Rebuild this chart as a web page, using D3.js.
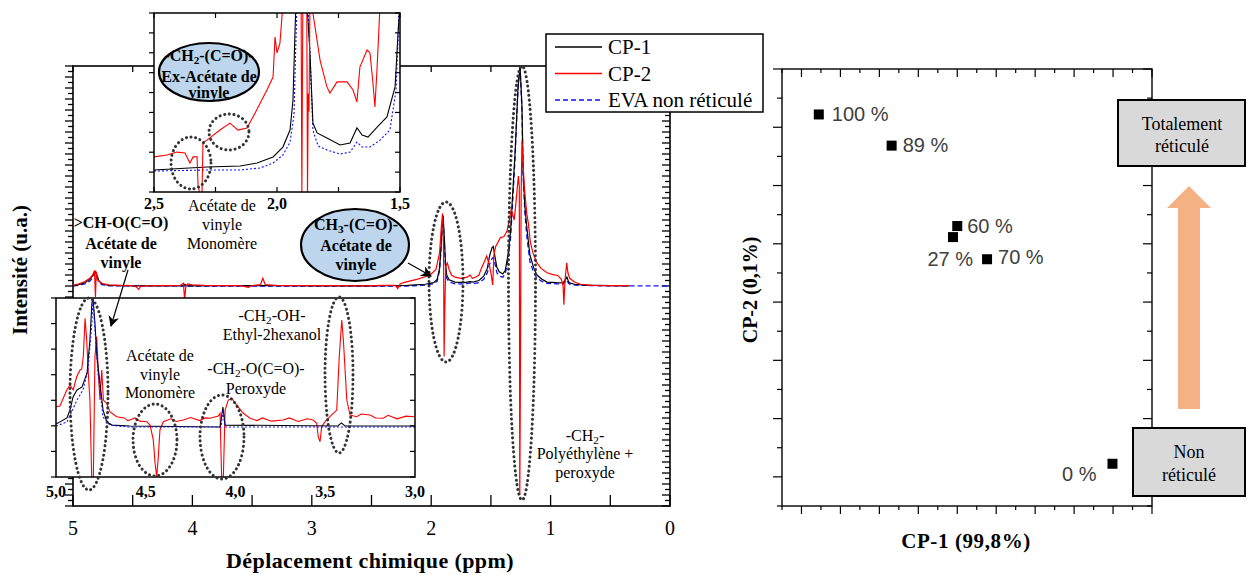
<!DOCTYPE html>
<html><head><meta charset="utf-8">
<script src="https://cdn.jsdelivr.net/npm/d3@7"></script>
<style>
body{margin:0;background:#fff}
svg{display:block}
text{font-family:"Liberation Serif","Times New Roman",serif;fill:#000}
</style>
</head><body>
<svg id="c" width="1247" height="575"></svg>
<script>
// ---------------- DATA ----------------
const seriesNames = ["CP-1", "CP-2", "EVA non réticulé"];
const mainXTickLabels = ["5", "4", "3", "2", "1", "0"];
const mainXTickValues = [5, 4, 3, 2, 1, 0];
const topInsetTickValues = [2.5, 2.0, 1.5];
const topInsetTickLabels = ["2,5", "2,0", "1,5"];
const botInsetTickValues = [5.0, 4.5, 4.0, 3.5, 3.0];
const botInsetTickLabels = ["5,0", "4,5", "4,0", "3,5", "3,0"];

// Main spectrum [ppm, intensity]
const mainCP1 = [[5.0,0.002],[4.95,0.006],[4.9,0.015],[4.86,0.03],[4.83,0.05],[4.815,0.066],[4.8,0.05],[4.785,0.025],[4.76,0.01],[4.7,0.003],[4.5,0.001],[4.08,0.001],[4.065,0.008],[4.05,0.001],[3.4,0.002],[3.0,0.001],[2.5,0.001],[2.2,0.003],[2.05,0.008],[1.98,0.015],[1.95,0.03],[1.93,0.08],[1.915,0.2],[1.905,0.3],[1.9,0.32],[1.89,0.22],[1.88,0.1],[1.87,0.05],[1.85,0.028],[1.8,0.018],[1.72,0.015],[1.675,0.02],[1.65,0.018],[1.6,0.025],[1.56,0.045],[1.53,0.08],[1.51,0.14],[1.49,0.175],[1.48,0.18],[1.465,0.13],[1.45,0.085],[1.43,0.065],[1.4,0.055],[1.38,0.07],[1.357,0.14],[1.335,0.25],[1.323,0.37],[1.298,0.6],[1.273,0.9],[1.256,1.0],[1.24,0.82],[1.23,0.52],[1.215,0.36],[1.198,0.26],[1.173,0.14],[1.14,0.08],[1.114,0.05],[1.07,0.03],[1.03,0.018],[0.95,0.015],[0.896,0.014],[0.875,0.03],[0.863,0.04],[0.85,0.02],[0.84,0.014],[0.8,0.008],[0.7,0.004],[0.5,0.002],[0.34,0.001]];
const mainCP2 = [[5.0,0.003],[4.95,0.01],[4.9,0.02],[4.86,0.035],[4.835,0.05],[4.82,0.07],[4.812,-0.05],[4.805,0.065],[4.795,0.03],[4.78,0.02],[4.75,0.01],[4.7,0.005],[4.6,0.003],[4.5,0.002],[4.47,-0.004],[4.45,-0.015],[4.43,0.0],[4.3,0.002],[4.1,0.003],[4.075,0.012],[4.065,-0.065],[4.055,0.0],[4.04,0.01],[4.0,0.005],[3.9,0.003],[3.6,0.002],[3.53,-0.006],[3.5,0.002],[3.43,0.006],[3.41,0.035],[3.39,0.006],[3.3,0.003],[3.0,0.002],[2.8,0.002],[2.55,0.001],[2.4,0.003],[2.3,0.003],[2.28,-0.012],[2.26,0.01],[2.2,0.02],[2.12,0.03],[2.05,0.042],[2.0,0.055],[1.96,0.075],[1.93,0.15],[1.915,0.27],[1.905,0.33],[1.897,0.2],[1.892,-0.32],[1.886,-0.1],[1.878,0.09],[1.865,0.105],[1.85,0.075],[1.83,0.05],[1.8,0.04],[1.75,0.035],[1.7,0.04],[1.675,0.05],[1.655,0.035],[1.63,0.04],[1.6,0.05],[1.58,0.08],[1.555,0.11],[1.535,0.136],[1.515,0.1],[1.5,0.06],[1.485,0.005],[1.475,0.14],[1.46,0.18],[1.44,0.2],[1.42,0.22],[1.39,0.225],[1.365,0.25],[1.345,0.3],[1.33,0.35],[1.32,0.33],[1.305,0.3],[1.29,0.38],[1.27,0.5],[1.262,0.45],[1.258,-0.95],[1.252,-0.3],[1.247,0.4],[1.24,0.66],[1.23,0.55],[1.22,0.45],[1.2,0.33],[1.185,0.28],[1.17,0.2],[1.15,0.155],[1.12,0.11],[1.08,0.08],[1.03,0.06],[0.98,0.052],[0.94,0.048],[0.91,0.03],[0.895,0.0],[0.889,-0.085],[0.88,0.02],[0.865,0.105],[0.855,0.06],[0.84,0.035],[0.8,0.018],[0.75,0.008],[0.65,0.003],[0.5,0.002],[0.34,0.002]];
const mainEVA = [[5.0,0.0],[4.95,0.004],[4.9,0.01],[4.86,0.022],[4.83,0.04],[4.815,0.06],[4.8,0.045],[4.785,0.02],[4.76,0.006],[4.7,0.001],[4.0,0.0],[3.0,0.0],[2.2,0.0],[2.05,0.004],[1.98,0.01],[1.95,0.022],[1.93,0.07],[1.915,0.19],[1.905,0.29],[1.9,0.3],[1.89,0.2],[1.88,0.08],[1.87,0.035],[1.85,0.018],[1.8,0.01],[1.72,0.008],[1.675,0.014],[1.65,0.01],[1.6,0.015],[1.56,0.03],[1.53,0.06],[1.51,0.1],[1.49,0.125],[1.48,0.13],[1.465,0.1],[1.45,0.06],[1.43,0.045],[1.4,0.04],[1.38,0.055],[1.357,0.12],[1.335,0.22],[1.323,0.33],[1.298,0.58],[1.273,0.9],[1.256,1.0],[1.24,0.8],[1.23,0.5],[1.215,0.33],[1.198,0.22],[1.173,0.11],[1.14,0.06],[1.114,0.035],[1.07,0.02],[1.03,0.012],[0.95,0.01],[0.896,0.009],[0.875,0.02],[0.863,0.028],[0.85,0.012],[0.84,0.008],[0.8,0.004],[0.6,0.001],[0.0,0.0]];

// Top inset (2.5 - 1.5 ppm), relative intensity
const topCP1 = [[2.5,0.123],[2.285,0.14],[2.15,0.145],[2.081,0.162],[2.016,0.196],[1.976,0.251],[1.947,0.346],[1.935,0.514],[1.927,0.888],[1.923,1.05],[1.878,1.05],[1.866,0.777],[1.854,0.385],[1.837,0.33],[1.797,0.302],[1.744,0.263],[1.703,0.274],[1.675,0.358],[1.654,0.318],[1.63,0.307],[1.593,0.363],[1.553,0.419],[1.52,0.587],[1.508,0.888],[1.5,1.05]];
const topCP2 = [[2.5,0.196],[2.447,0.207],[2.407,0.223],[2.374,0.218],[2.354,0.162],[2.341,0.196],[2.325,0.196],[2.321,0.039],[2.313,-0.02],[2.305,-0.02],[2.301,0.274],[2.285,0.29],[2.232,0.346],[2.191,0.385],[2.159,0.346],[2.122,0.358],[2.089,0.441],[2.041,0.57],[2.016,0.642],[2.008,0.866],[2.0,0.777],[1.988,0.832],[1.976,1.05],[1.902,1.05],[1.899,-0.02],[1.895,1.05],[1.879,1.05],[1.876,-0.02],[1.873,0.55],[1.87,0.45],[1.866,1.05],[1.854,1.0],[1.825,0.737],[1.797,0.587],[1.785,0.553],[1.756,0.615],[1.715,0.615],[1.691,0.57],[1.675,0.503],[1.663,0.698],[1.634,0.793],[1.622,0.777],[1.61,0.609],[1.602,0.475],[1.593,0.698],[1.581,1.05]];
const topEVA = [[2.5,0.117],[2.285,0.123],[2.15,0.123],[2.069,0.134],[2.016,0.162],[1.976,0.207],[1.947,0.279],[1.931,0.43],[1.923,0.85],[1.919,1.05],[1.874,1.05],[1.862,0.626],[1.854,0.346],[1.833,0.257],[1.797,0.235],[1.744,0.212],[1.703,0.223],[1.675,0.279],[1.654,0.251],[1.622,0.251],[1.581,0.29],[1.541,0.346],[1.516,0.57],[1.508,0.85],[1.504,1.05]];

// Bottom inset (5.0 - 3.0 ppm), relative intensity
const botCP1 = [[5.0,0.296],[4.939,0.33],[4.922,0.374],[4.905,0.447],[4.883,0.486],[4.855,0.503],[4.827,0.581],[4.811,0.765],[4.8,0.972],[4.794,1.0],[4.783,0.86],[4.772,0.67],[4.755,0.525],[4.738,0.374],[4.716,0.307],[4.688,0.29],[4.588,0.285],[4.086,0.279],[4.07,0.391],[4.058,0.29],[3.43,0.285],[3.41,0.302],[3.39,0.285],[3.0,0.285]];
const botEVA = [[5.0,0.285],[4.939,0.307],[4.883,0.43],[4.85,0.486],[4.822,0.598],[4.8,0.86],[4.794,0.989],[4.783,0.821],[4.766,0.581],[4.738,0.335],[4.7,0.29],[4.6,0.279],[4.08,0.279],[4.07,0.374],[4.058,0.279],[3.0,0.279]];
const botCP2 = [[5.0,0.393],[4.978,0.397],[4.94,0.486],[4.922,0.514],[4.904,0.486],[4.885,0.56],[4.866,0.598],[4.857,0.602],[4.848,0.672],[4.838,0.887],[4.829,0.765],[4.82,0.579],[4.811,0.43],[4.801,-0.01],[4.792,-0.01],[4.783,0.672],[4.773,0.784],[4.764,0.579],[4.755,0.43],[4.745,0.598],[4.736,0.43],[4.718,0.412],[4.7,0.365],[4.662,0.337],[4.62,0.33],[4.6,0.315],[4.588,0.318],[4.56,0.33],[4.532,0.312],[4.495,0.309],[4.476,0.29],[4.458,0.207],[4.448,0.076],[4.439,0.002],[4.43,0.113],[4.421,0.263],[4.402,0.309],[4.36,0.325],[4.33,0.31],[4.291,0.318],[4.25,0.332],[4.2,0.315],[4.17,0.33],[4.142,0.328],[4.096,0.341],[4.086,0.356],[4.077,-0.01],[4.068,-0.01],[4.058,0.374],[4.04,0.43],[4.021,0.44],[3.993,0.402],[3.956,0.356],[3.919,0.328],[3.88,0.315],[3.85,0.33],[3.8,0.312],[3.734,0.318],[3.7,0.33],[3.65,0.31],[3.6,0.325],[3.567,0.318],[3.548,0.3],[3.539,0.225],[3.529,0.197],[3.52,0.281],[3.501,0.309],[3.474,0.337],[3.436,0.374],[3.422,0.672],[3.408,0.877],[3.399,0.765],[3.38,0.43],[3.362,0.346],[3.325,0.337],[3.3,0.352],[3.25,0.346],[3.22,0.33],[3.177,0.328],[3.15,0.345],[3.1,0.325],[3.05,0.34],[3.0,0.337]];

// Scatter (PCA scores)
const scatterLabels = ["100 %", "89 %", "60 %", "27 %", "70 %", "0 %"];
const scatterCP1 = [1.89, 5.63, 9.0, 8.78, 10.53, 16.97];
const scatterCP2 = [13.44, 12.37, 9.61, 9.23, 8.47, 1.45];

// ---------------- LAYOUT ----------------
const svg = d3.select("#c");
const colors = {cp1: "#000000", cp2: "#ff0000", eva: "#1010ff"};
const defs = svg.append("defs");
defs.append("marker").attr("id","ah").attr("viewBox","0 0 10 10").attr("refX",9).attr("refY",5)
  .attr("markerWidth",11).attr("markerHeight",11).attr("markerUnits","userSpaceOnUse").attr("orient","auto")
  .append("path").attr("d","M0,0 L10,5 L0,10 L3,5 Z").attr("fill","#000");

function rich(sel, x, y, parts, size, weight, anchor) {
  const t = sel.append("text").attr("x", x).attr("y", y).attr("font-size", size)
    .attr("font-weight", weight || "normal").attr("text-anchor", anchor || "middle");
  let sub = false;
  parts.forEach(p => {
    const isSub = p[1] === true;
    const ts = t.append("tspan").text(p[0]);
    if (isSub && !sub) ts.attr("dy", size * 0.2).attr("font-size", size * 0.7);
    else if (!isSub && sub) ts.attr("dy", -size * 0.2);
    sub = isSub;
  });
  return t;
}
function lines(sel, x, ys, strs, size, weight) {
  strs.forEach((s, i) => rich(sel, x, ys[i], typeof s === "string" ? [[s]] : s, size, weight));
}
function dotEllipse(sel, cx, cy, rx, ry) {
  sel.append("ellipse").attr("cx", cx).attr("cy", cy).attr("rx", rx).attr("ry", ry)
    .attr("fill", "none").attr("stroke", "#333").attr("stroke-width", 3)
    .attr("stroke-dasharray", "0.1,4.6").attr("stroke-linecap", "round");
}

// ===== MAIN NMR PLOT =====
const M = {l: 73, r: 670, t: 66, b: 506};
const xMain = d3.scaleLinear().domain([5, 0]).range([M.l, M.r]);
const yMain = d3.scaleLinear().domain([-1, 1]).range([M.b, M.t]);
defs.append("clipPath").attr("id","clipMain").append("rect")
  .attr("x", M.l).attr("y", M.t - 1).attr("width", M.r - M.l).attr("height", M.b - M.t + 1);

const gMain = svg.append("g");
const yt = d3.range(-40, 41);
yt.forEach(i => {
  const yy = yMain(i * 0.025), len = i % 2 === 0 ? 8 : 5;
  gMain.append("line").attr("x1", M.l - len).attr("x2", M.l).attr("y1", yy).attr("y2", yy).attr("stroke","#000").attr("stroke-width",1.3);
  gMain.append("line").attr("x1", M.r - len).attr("x2", M.r).attr("y1", yy).attr("y2", yy).attr("stroke","#000").attr("stroke-width",1.3);
});
d3.range(0, 11).forEach(i => {
  const xx = xMain(i * 0.5);
  gMain.append("line").attr("x1", xx).attr("x2", xx).attr("y1", M.t).attr("y2", M.t + 6).attr("stroke","#000").attr("stroke-width",1.3);
  gMain.append("line").attr("x1", xx).attr("x2", xx).attr("y1", M.b).attr("y2", M.b - 11).attr("stroke","#000").attr("stroke-width",1.3);
});
gMain.append("rect").attr("x", M.l).attr("y", M.t).attr("width", M.r - M.l).attr("height", M.b - M.t)
  .attr("fill","none").attr("stroke","#000").attr("stroke-width",1.6);
mainXTickValues.forEach((v, i) => {
  gMain.append("text").attr("x", xMain(v)).attr("y", 535).attr("text-anchor","middle").attr("font-size", 20).text(mainXTickLabels[i]);
});
gMain.append("text").attr("x", 370).attr("y", 568).attr("text-anchor","middle").attr("font-size", 22)
  .attr("font-weight","bold").attr("letter-spacing", 0.4).text("Déplacement chimique (ppm)");
gMain.append("text").attr("transform","translate(27,270) rotate(-90)").attr("text-anchor","middle")
  .attr("font-size", 21).attr("font-weight","bold").text("Intensité (u.a.)");

const lineMain = d3.line().x(d => xMain(d[0])).y(d => yMain(d[1]));
const gSpec = gMain.append("g").attr("clip-path","url(#clipMain)");
gSpec.append("path").datum(mainEVA).attr("d", lineMain).attr("fill","none").attr("stroke", colors.eva).attr("stroke-width",1.3).attr("stroke-dasharray","5,3");
gSpec.append("path").datum(mainCP1).attr("d", lineMain).attr("fill","none").attr("stroke", colors.cp1).attr("stroke-width",1.2);
gSpec.append("path").datum(mainCP2).attr("d", lineMain).attr("fill","none").attr("stroke", colors.cp2).attr("stroke-width",1.2);

dotEllipse(gMain, 446, 282, 17, 80);
dotEllipse(gMain, 522, 283, 13.5, 217);

lines(gMain, 585, [441, 459, 478], [[["-CH"],["2",true],["-"]], "Polyéthylène +", "peroxyde"], 16, "normal");
lines(gMain, 121, [228, 249, 268], [">CH-O(C=O)", "Acétate de", "vinyle"], 16, "bold");
lines(gMain, 222, [211, 230, 249], ["Acétate de", "vinyle", "Monomère"], 16, "normal");
gMain.append("ellipse").attr("cx", 355).attr("cy", 245).attr("rx", 54).attr("ry", 36)
  .attr("fill","#bdd5ed").attr("stroke","#000").attr("stroke-width",2.2);
lines(gMain, 356, [230, 251, 270], [[["CH"],["3",true],["-(C=O)-"]], "Acétate de", "vinyle"], 16, "bold");
gMain.append("line").attr("x1", 408).attr("y1", 263).attr("x2", 431).attr("y2", 276)
  .attr("stroke","#000").attr("stroke-width",1.2).attr("marker-end","url(#ah)");

// ===== LEGEND =====
const gLeg = svg.append("g");
gLeg.append("rect").attr("x", 546).attr("y", 34).attr("width", 217).attr("height", 78)
  .attr("fill","#fff").attr("stroke","#000").attr("stroke-width",1.5);
const legStyles = [{c: colors.cp1, d: null}, {c: colors.cp2, d: null}, {c: colors.eva, d: "5,3"}];
seriesNames.forEach((n, i) => {
  const yy = 47 + i * 26.5;
  const ln = gLeg.append("line").attr("x1", 555).attr("x2", 602).attr("y1", yy).attr("y2", yy)
    .attr("stroke", legStyles[i].c).attr("stroke-width", 1.3);
  if (legStyles[i].d) ln.attr("stroke-dasharray", legStyles[i].d);
  gLeg.append("text").attr("x", 608).attr("y", yy + 7).attr("font-size", 21).text(n);
});

// ===== TOP INSET =====
const T = {l: 154, r: 400, t: 13, b: 192};
const xTop = d3.scaleLinear().domain([2.5, 1.5]).range([T.l, T.r]);
const yTop = d3.scaleLinear().domain([0, 1]).range([T.b, T.t]);
defs.append("clipPath").attr("id","clipTop").append("rect").attr("x", T.l).attr("y", T.t).attr("width", T.r - T.l).attr("height", T.b - T.t);
const gTop = svg.append("g");
gTop.append("rect").attr("x", T.l).attr("y", T.t).attr("width", T.r - T.l).attr("height", T.b - T.t).attr("fill","#fff");
d3.range(0, 10).forEach(i => {
  const yy = yTop(i / 9);
  gTop.append("line").attr("x1", T.l - 5).attr("x2", T.l).attr("y1", yy).attr("y2", yy).attr("stroke","#000").attr("stroke-width",1.2);
  gTop.append("line").attr("x1", T.r - 5).attr("x2", T.r).attr("y1", yy).attr("y2", yy).attr("stroke","#000").attr("stroke-width",1.2);
});
d3.range(0, 5).forEach(i => {
  const xx = xTop(2.5 - i * 0.25);
  gTop.append("line").attr("x1", xx).attr("x2", xx).attr("y1", T.t).attr("y2", T.t + 5).attr("stroke","#000").attr("stroke-width",1.2);
  gTop.append("line").attr("x1", xx).attr("x2", xx).attr("y1", T.b).attr("y2", T.b - 5).attr("stroke","#000").attr("stroke-width",1.2);
});
const lineTop = d3.line().x(d => xTop(d[0])).y(d => yTop(d[1]));
const gTopS = gTop.append("g").attr("clip-path","url(#clipTop)");
gTopS.append("path").datum(topEVA).attr("d", lineTop).attr("fill","none").attr("stroke", colors.eva).attr("stroke-width",1.1).attr("stroke-dasharray","2,2");
gTopS.append("path").datum(topCP1).attr("d", lineTop).attr("fill","none").attr("stroke", colors.cp1).attr("stroke-width",1.1);
gTopS.append("path").datum(topCP2).attr("d", lineTop).attr("fill","none").attr("stroke", colors.cp2).attr("stroke-width",1.1);
gTop.append("rect").attr("x", T.l).attr("y", T.t).attr("width", T.r - T.l).attr("height", T.b - T.t)
  .attr("fill","none").attr("stroke","#000").attr("stroke-width",1.5);
topInsetTickValues.forEach((v, i) => {
  gTop.append("text").attr("x", xTop(v)).attr("y", 209).attr("text-anchor","middle").attr("font-size", 16).attr("font-weight","bold").text(topInsetTickLabels[i]);
});
gTop.append("ellipse").attr("cx", 209).attr("cy", 72).attr("rx", 50).attr("ry", 29)
  .attr("fill","#bdd5ed").attr("stroke","#000").attr("stroke-width",2.2);
lines(gTop, 209, [61, 82, 98], [[["-CH"],["2",true],["-(C=O)-"]], "Ex-Acétate de", "vinyle"], 16, "bold");
dotEllipse(gTop, 191, 163, 20, 26);
dotEllipse(gTop, 229, 132, 20, 18);

// ===== BOTTOM INSET =====
const B = {l: 56, r: 415, t: 298, b: 477};
const xBot = d3.scaleLinear().domain([5.0, 3.0]).range([B.l, B.r]);
const yBot = d3.scaleLinear().domain([0, 1]).range([B.b, B.t]);
defs.append("clipPath").attr("id","clipBot").append("rect").attr("x", B.l).attr("y", B.t).attr("width", B.r - B.l).attr("height", B.b - B.t);
const gBot = svg.append("g");
gBot.append("rect").attr("x", B.l).attr("y", B.t).attr("width", B.r - B.l).attr("height", B.b - B.t).attr("fill","#fff");
d3.range(0, 8).forEach(i => {
  const yy = yBot(i / 7);
  gBot.append("line").attr("x1", B.l - 5).attr("x2", B.l).attr("y1", yy).attr("y2", yy).attr("stroke","#000").attr("stroke-width",1.2);
  gBot.append("line").attr("x1", B.r - 5).attr("x2", B.r).attr("y1", yy).attr("y2", yy).attr("stroke","#000").attr("stroke-width",1.2);
});
const lineBot = d3.line().x(d => xBot(d[0])).y(d => yBot(d[1]));
const gBotS = gBot.append("g").attr("clip-path","url(#clipBot)");
gBotS.append("path").datum(botCP2).attr("d", lineBot).attr("fill","none").attr("stroke", colors.cp2).attr("stroke-width",1.1);
gBotS.append("path").datum(botCP1).attr("d", lineBot).attr("fill","none").attr("stroke", colors.cp1).attr("stroke-width",1.1);
gBotS.append("path").datum(botEVA).attr("d", lineBot).attr("fill","none").attr("stroke", colors.eva).attr("stroke-width",1.1).attr("stroke-dasharray","2,2");
gBot.append("rect").attr("x", B.l).attr("y", B.t).attr("width", B.r - B.l).attr("height", B.b - B.t)
  .attr("fill","none").attr("stroke","#000").attr("stroke-width",1.5);
botInsetTickValues.forEach((v, i) => {
  gBot.append("text").attr("x", xBot(v)).attr("y", 497).attr("text-anchor","middle").attr("font-size", 16).attr("font-weight","bold").text(botInsetTickLabels[i]);
});
dotEllipse(gBot, 89, 394, 19, 96);
dotEllipse(gBot, 155, 440, 22, 36);
dotEllipse(gBot, 222, 437, 22, 42);
dotEllipse(gBot, 339, 375, 14, 78);
lines(gBot, 272, [321, 340], [[["-CH"],["2",true],["-OH-"]], "Ethyl-2hexanol"], 16, "normal");
lines(gBot, 160, [361, 380, 398], ["Acétate de", "vinyle", "Monomère"], 16, "normal");
lines(gBot, 256, [374, 394], [[["-CH"],["2",true],["-O(C=O)-"]], "Peroxyde"], 16, "normal");
svg.append("line").attr("x1", 128).attr("y1", 270).attr("x2", 111).attr("y2", 326)
  .attr("stroke","#000").attr("stroke-width",1.2).attr("marker-end","url(#ah)");

// ===== SCATTER (PCA) =====
const S = {l: 782, r: 1152, t: 69, b: 506};
const xS = d3.scaleLinear().domain([0, 19]).range([S.l, S.r]);
const yS = d3.scaleLinear().domain([0, 15]).range([S.b, S.t]);
const gS = svg.append("g");
d3.range(0, 20).forEach(i => {
  const xx = xS(i), len = i % 2 === 1 ? 8 : 4;
  gS.append("line").attr("x1", xx).attr("x2", xx).attr("y1", S.b).attr("y2", S.b + len).attr("stroke","#000").attr("stroke-width",1.2);
  gS.append("line").attr("x1", xx).attr("x2", xx).attr("y1", S.t).attr("y2", S.t + len).attr("stroke","#000").attr("stroke-width",1.2);
});
d3.range(0, 16).forEach(i => {
  const yy = yS(i), len = i % 2 === 1 ? 9 : 5;
  gS.append("line").attr("x1", S.l - len).attr("x2", S.l).attr("y1", yy).attr("y2", yy).attr("stroke","#000").attr("stroke-width",1.2);
  gS.append("line").attr("x1", S.r - len).attr("x2", S.r).attr("y1", yy).attr("y2", yy).attr("stroke","#000").attr("stroke-width",1.2);
});
gS.append("rect").attr("x", S.l).attr("y", S.t).attr("width", S.r - S.l).attr("height", S.b - S.t)
  .attr("fill","none").attr("stroke","#000").attr("stroke-width",1.4);
gS.append("text").attr("x", 966).attr("y", 548).attr("text-anchor","middle").attr("font-size", 21)
  .attr("font-weight","bold").attr("letter-spacing", 0.6).text("CP-1 (99,8%)");
gS.append("text").attr("transform","translate(757,290) rotate(-90)").attr("text-anchor","middle")
  .attr("font-size", 20).attr("font-weight","bold").text("CP-2 (0,1%)");

gS.append("rect").attr("x", 1178).attr("y", 207).attr("width", 22).attr("height", 202).attr("fill","#f4b183");
gS.append("path").attr("d","M1167,208 L1211,208 L1189,186 Z").attr("fill","#f4b183");
gS.append("rect").attr("x", 1118).attr("y", 100).attr("width", 127).attr("height", 66)
  .attr("fill","#d9d9d9").attr("stroke","#000").attr("stroke-width",2);
lines(gS, 1182, [130, 152], ["Totalement", "réticulé"], 18, "normal");
gS.append("rect").attr("x", 1133).attr("y", 428).attr("width", 112).attr("height", 68)
  .attr("fill","#d9d9d9").attr("stroke","#000").attr("stroke-width",2);
lines(gS, 1189, [458, 481], ["Non", "réticulé"], 18, "normal");

const labelPlace = [[13, 7, "start"], [11, 6, "start"], [10, 7, "start"], [20, 29, "end"], [11, 5, "start"], [-16, 17, "end"]];
scatterLabels.forEach((lab, i) => {
  const px = xS(scatterCP1[i]), py = yS(scatterCP2[i]);
  gS.append("rect").attr("x", px - 5).attr("y", py - 5).attr("width", 10).attr("height", 10).attr("fill","#000");
  gS.append("text").attr("x", px + labelPlace[i][0]).attr("y", py + labelPlace[i][1])
    .attr("text-anchor", labelPlace[i][2]).attr("font-size", 20)
    .style("font-family", "'Liberation Sans', Arial, sans-serif").style("fill", "#404040").text(lab);
});
</script>
</body></html>
